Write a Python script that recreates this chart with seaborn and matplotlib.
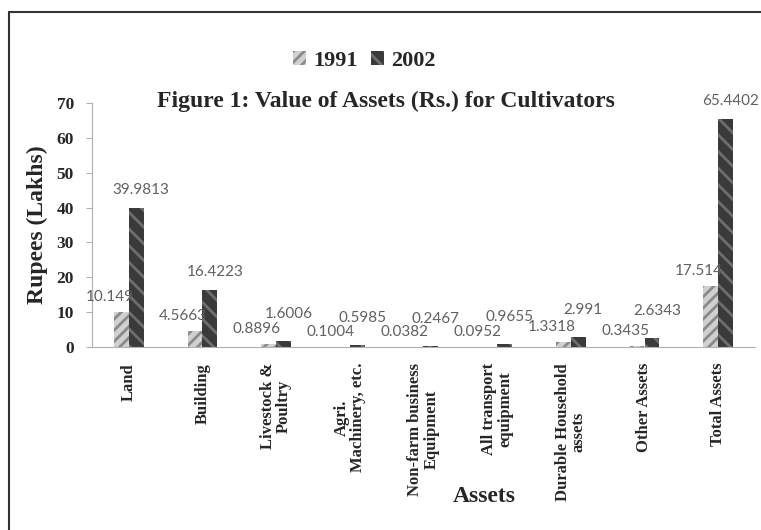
import pandas as pd
import matplotlib.pyplot as plt
import seaborn as sns
from matplotlib.lines import Line2D
from matplotlib.patches import Patch

assets = ["Land", "Building", "Livestock &\nPoultry", "Agri.\nMachinery, etc.",
          "Non-farm business\nEquipment", "All transport\nequipment",
          "Durable Household\nassets", "Other Assets", "Total Assets"]
v1991 = [10.149, 4.5663, 0.8896, 0.1004, 0.0382, 0.0952, 1.3318, 0.3435, 17.514]
v2002 = [39.9813, 16.4223, 1.6006, 0.5985, 0.2467, 0.9655, 2.991, 2.6343, 65.4402]
years = ["1991", "2002"]

df = pd.DataFrame({
    "asset": assets * 2,
    "value": v1991 + v2002,
    "year": [years[0]] * len(assets) + [years[1]] * len(assets),
})

sns.set_style("white")
plt.rcParams["font.family"] = ["Liberation Serif", "DejaVu Serif"]
plt.rcParams["hatch.linewidth"] = 2.0

fig = plt.figure(figsize=(7.61, 5.30), dpi=100)
ax = fig.add_axes([92 / 761, 1 - 347 / 530, 663 / 761, 244 / 530])

colors = {"1991": "#d0d0d0", "2002": "#3a3a3a"}
sns.barplot(data=df, x="asset", y="value", hue="year", palette=colors,
            width=0.4, ax=ax, legend=False, linewidth=0)

styles = [("#8a8a8a", "///"), ("#6e6e6e", "\\\\")]
for i, (cont, (ec, h)) in enumerate(zip(ax.containers, styles)):
    for bar in cont:
        bar.set_edgecolor(ec)
        bar.set_hatch(h)
        bar.set_linewidth(0)
        val = bar.get_height()
        if i == 0:
            dx, dy = -12, 15
        else:
            dx, dy = 5, (27 if val < 5 else 18)
        ax.annotate(f"{val:g}", (bar.get_x() + bar.get_width() / 2, val),
                    xytext=(dx, dy), textcoords="offset pixels",
                    ha="center", va="center", fontsize=11, color="#606060",
                    family=["Lato", "DejaVu Sans"])

ax.set_ylim(0, 70)
ax.set_yticks(range(0, 71, 10))
ax.set_xlim(-0.5, len(assets) - 0.5)
for s in ["top", "right"]:
    ax.spines[s].set_visible(False)
for s in ["left", "bottom"]:
    ax.spines[s].set_color("#b0b0b0")
    ax.spines[s].set_linewidth(0.8)
ax.tick_params(axis="y", left=True, length=4, color="#b0b0b0", pad=9,
               labelsize=12.5)
ax.tick_params(axis="x", bottom=False, pad=8, labelsize=12)
for t in ax.get_yticklabels():
    t.set_fontweight("bold")
ax.set_xticks(range(len(assets)))
ax.set_xticklabels(assets, rotation=90, fontweight="bold", va="top",
                   ha="center", linespacing=1.0)
ax.set_xlabel("")
ax.set_ylabel("Rupees (Lakhs)", fontsize=17, fontweight="bold", labelpad=6)

fig.text(484 / 761, 1 - 497 / 530, "Assets", ha="center", va="center",
         fontsize=17, fontweight="bold")
fig.text(386 / 761, 1 - 101 / 530,
         "Figure 1: Value of Assets (Rs.) for Cultivators",
         ha="center", va="center", fontsize=17, fontweight="bold")

handles = [Patch(facecolor=colors[y], edgecolor=ec, hatch=h, linewidth=0)
           for y, (ec, h) in zip(years, styles)]
fig.legend(handles, years, loc="center", bbox_to_anchor=(364 / 761, 1 - 61 / 530),
           ncol=2, frameon=False, handlelength=0.6, handleheight=0.6,
           handletextpad=0.3, columnspacing=0.6,
           prop={"weight": "bold", "size": 16})

# frame around the figure (left and top edges visible)
fig.add_artist(Line2D([9 / 761, 9 / 761], [0, 1 - 12 / 530],
                      transform=fig.transFigure, color="#333333", lw=1.5))
fig.add_artist(Line2D([9 / 761, 1], [1 - 12 / 530, 1 - 12 / 530],
                      transform=fig.transFigure, color="#333333", lw=1.5))

fig.savefig("out.png", dpi=100)
